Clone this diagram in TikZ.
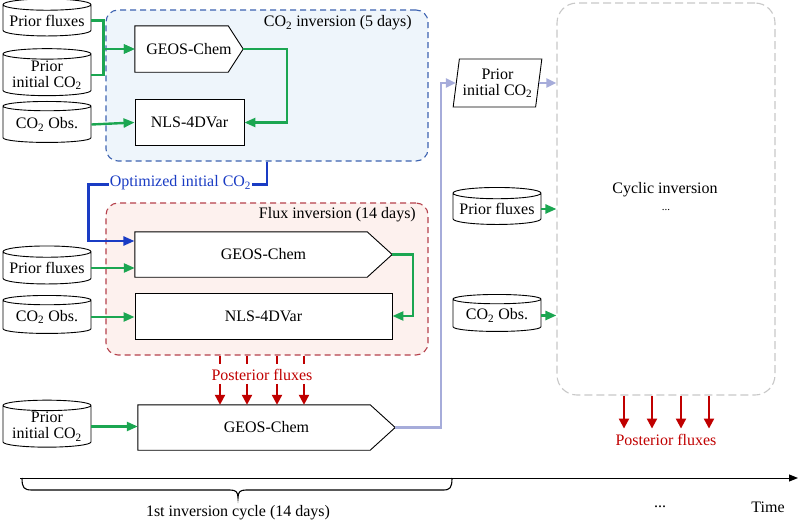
\documentclass[tikz,border=0pt]{standalone}
\usepackage{fontspec}
\setmainfont{Liberation Serif}
\usetikzlibrary{shapes.geometric,arrows.meta,calc}
\definecolor{gr}{HTML}{1BA651}
\definecolor{dblue}{HTML}{1A3CC4}
\definecolor{bboxc}{HTML}{3C62B0}
\definecolor{bfill}{HTML}{EEF5FB}
\definecolor{rboxc}{HTML}{B5414C}
\definecolor{rfill}{HTML}{FDF1EE}
\definecolor{darr}{HTML}{C00000}
\definecolor{lav}{HTML}{A6ACDA}
\definecolor{grayb}{HTML}{C8C8C8}
\pgfdeclarelayer{bgzero}
\pgfdeclarelayer{bgone}
\pgfsetlayers{bgzero,bgone,main}
\begin{document}
\begin{tikzpicture}[x=1pt,y=-1pt,font=\fontsize{16}{16}\selectfont,
  db/.style={cylinder, shape border rotate=90, draw, line width=0.9pt, aspect=0.15, minimum width=88pt, inner sep=0pt, align=center, fill=white},
  proc/.style={draw, line width=0.9pt, rectangle, inner sep=0pt, fill=white, minimum height=46pt},
  model/.style={rectangle, inner sep=0pt, minimum height=46pt},
  shapeline/.style={draw=black, fill=white, line width=0.9pt},
  para/.style={trapezium, trapezium left angle=79, trapezium right angle=101, trapezium stretches=true, draw, line width=0.9pt, fill=white, inner sep=0pt, align=center},
  garrow/.style={draw=gr, line width=2.4pt, -{Triangle[length=11pt,width=9pt]}},
  barrow/.style={draw=dblue, line width=2.4pt, -{Triangle[length=11pt,width=9pt]}},
  rarrow/.style={draw=darr, line width=2.2pt, -{Triangle[length=10pt,width=10pt]}},
  rtick/.style={draw=darr, line width=2.2pt},
  larrow/.style={draw=lav, line width=2.4pt, -{Triangle[length=10pt,width=9pt]}},
  bluebox/.style={draw=bboxc, fill=bfill, dash pattern=on 6pt off 4pt, line width=1.1pt, rounded corners=12pt},
  redbox/.style={draw=rboxc, fill=rfill, dash pattern=on 6pt off 4pt, line width=1.1pt, rounded corners=12pt},
  graybox/.style={draw=grayb, dash pattern=on 8pt off 4pt, line width=1.1pt, rounded corners=20pt},
  lbl/.style={inner sep=1pt}]
\useasboundingbox (0,0) rectangle (800,530);

% containers
\begin{pgfonlayer}{bgzero}
\node[bluebox, minimum width=322pt, minimum height=151pt] (box1) at (267,85.5) {};
\node[redbox, minimum width=322pt, minimum height=152pt] (box2) at (267,279) {};
\node[graybox, minimum width=218pt, minimum height=392pt] (box3) at (666,199) {};
\end{pgfonlayer}
\node[lbl, anchor=east] (lbl1) at (413,23) {CO\textsubscript{2} inversion (5 days)};
\node[lbl, anchor=east] (lbl2) at (417,215) {Flux inversion (14 days)};
\node[lbl] (lbl3) at (665,190) {Cyclic inversion};
\node[lbl, font=\fontsize{11}{11}\selectfont] (lbl4) at (666,210) {...};

% GEOS-Chem model nodes (pentagon outline drawn behind the text)
\node[model, minimum width=108pt] (geos1) at (189,49) {GEOS-Chem};
\node[model, minimum width=257pt, minimum height=45pt] (geos2) at (263.5,254.5) {GEOS-Chem};
\node[model, minimum width=257pt, minimum height=45pt] (geos3) at (266.5,427.5) {GEOS-Chem};
\begin{pgfonlayer}{bgone}
\path[shapeline] (geos1.north west) -- ($(geos1.north east)+(-15,0)$) -- (geos1.east) -- ($(geos1.south east)+(-15,0)$) -- (geos1.south west) -- cycle;
\path[shapeline] (geos2.north west) -- ($(geos2.north east)+(-25,0)$) -- (geos2.east) -- ($(geos2.south east)+(-25,0)$) -- (geos2.south west) -- cycle;
\path[shapeline] (geos3.north west) -- ($(geos3.north east)+(-25,0)$) -- (geos3.east) -- ($(geos3.south east)+(-25,0)$) -- (geos3.south west) -- cycle;
\end{pgfonlayer}

% first block
\node[db, minimum height=37pt] (pf1) at (47,20.5) {Prior fluxes};
\node[db, minimum height=47pt] (pic1) at (47,75) {Prior\\initial CO\textsubscript{2}};
\node[db, minimum height=41pt] (obs1) at (47,124.5) {CO\textsubscript{2} Obs.};
\node[proc, minimum width=109pt] (nls1) at (189.5,122.5) {NLS-4DVar};
\draw[garrow] (pf1.east) -- ++(12,0) |- (geos1.west);
\draw[garrow] (pic1.east) -- ++(12,0) |- (geos1.west);
\draw[garrow] (obs1.east) -- (nls1.west);
\draw[garrow] (geos1.east) -- ++(44,0) |- (nls1.east);

% optimized initial CO2
\draw[barrow] (box1.south) -- ++(0,23) -| ($(box2.west)+(-17,-38)$) -- ($(box2.west)+(29,-38)$);
\node[lbl, fill=white, text=dblue] (optl) at (180.5,183) {Optimized initial CO\textsubscript{2}};

% second block
\node[db, minimum height=38pt] (pf2) at (47,268) {Prior fluxes};
\node[db, minimum height=38pt] (obs2) at (47,317) {CO\textsubscript{2} Obs.};
\node[proc, minimum width=257pt] (nls2) at (263.5,316) {NLS-4DVar};
\draw[garrow] (pf2.east) -- (pf2.east -| geos2.west);
\draw[garrow] (obs2.east) -- (obs2.east -| nls2.west);
\draw[garrow] (geos2.east) -- ++(21,0) |- (nls2.east);

% posterior fluxes, first cycle
\node[lbl, text=darr] (post1) at (262,375) {Posterior fluxes};
\node[db, minimum height=47pt] (pic3) at (47,426.5) {Prior\\initial CO\textsubscript{2}};
\foreach \x in {220,247,277,304} {
  \draw[rtick] (\x,0 |- box2.south) -- ++(0,8);
  \draw[rarrow] (\x,0 |- post1.south) ++(0,2) -- (\x,0 |- geos3.north);
}
\draw[garrow] (pic3.east) -- (pic3.east -| geos3.west);

% transfer to cyclic inversion
\node[para, minimum width=89pt, minimum height=48pt] (pic2) at (497.5,83) {Prior\\initial CO\textsubscript{2}};
\draw[larrow] (geos3.east) -- ++(46,0) |- (pic2.west);
\draw[larrow] (pic2.east) -- (pic2.east -| box3.west);

% right inputs
\node[db, minimum height=37pt] (pf3) at (497,209) {Prior fluxes};
\node[db, minimum height=37pt] (obs3) at (497,315.5) {CO\textsubscript{2} Obs.};
\draw[garrow] (pf3.east) -- (pf3.east -| box3.west);
\draw[garrow] (obs3.east) -- (obs3.east -| box3.west);

% posterior fluxes, cyclic
\foreach \x in {624,652,681,709} {
  \draw[rarrow] (\x,0 |- box3.south) -- ++(0,33);
}
\node[lbl, text=darr] (post2) at (666,440) {Posterior fluxes};

% time axis
\coordinate (t0) at (20,478);
\coordinate (t1) at (798,478);
\draw[line width=1pt, -{Triangle[length=9pt,width=7pt]}] (t0) -- (t1);
\draw[line width=1.1pt] (22,478) .. controls (22,488) and (24,490) .. (32,490) -- (230,490) .. controls (236,490) and (238,492) .. (238,498)
  .. controls (238,492) and (240,490) .. (246,490) -- (443,490) .. controls (450,490) and (452,488) .. (452,478);
\node[lbl] (cyc) at (238,513) {1st inversion cycle (14 days)};
\node[lbl] (dots) at (660,507) {...};
\node[lbl] (time) at (768,507) {Time};
\end{tikzpicture}
\end{document}
